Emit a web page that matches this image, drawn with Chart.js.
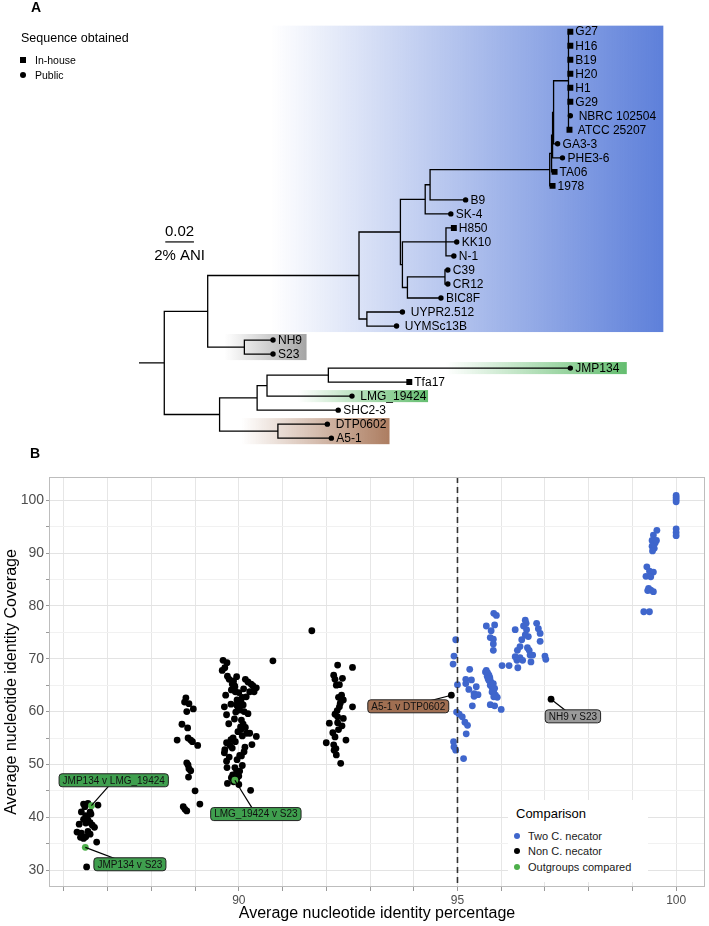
<!DOCTYPE html>
<html><head><meta charset="utf-8">
<script src="https://cdn.jsdelivr.net/npm/chart.js@4"></script>
<style>
body{margin:0;width:709px;height:926px;background:#fff;position:relative;overflow:hidden;font-family:"Liberation Sans",Arial,Helvetica,sans-serif}
canvas{position:absolute;left:0}
#tree{top:0}
#ani{top:455px}
.t{position:absolute;white-space:nowrap;color:#000}
</style></head><body>
<canvas id="tree" width="709" height="455"></canvas>
<canvas id="ani" width="709" height="471"></canvas>
<div class="t" style="left:31px;top:0px;font-weight:bold;font-size:14px;line-height:14px">A</div>
<div class="t" style="left:21px;top:30px;font-size:12.5px;line-height:16px">Sequence obtained</div>
<div style="position:absolute;left:20px;top:57px;width:6px;height:6px;background:#000"></div>
<div class="t" style="left:35px;top:54px;font-size:10.5px;line-height:12px">In-house</div>
<div style="position:absolute;left:20px;top:72px;width:6px;height:6px;border-radius:50%;background:#000"></div>
<div class="t" style="left:35px;top:69px;font-size:10.5px;line-height:12px">Public</div>
<div class="t" style="left:30px;top:446px;font-weight:bold;font-size:14px;line-height:14px">B</div>
<div style="position:absolute;left:508px;top:800px;width:140px;height:82px;background:#fff"></div>
<div class="t" style="left:516px;top:806px;font-size:13px;line-height:16px">Comparison</div>
<div style="position:absolute;left:514px;top:833px;width:6px;height:6px;border-radius:50%;background:#3f66cc"></div>
<div class="t" style="left:528px;top:829px;font-size:11px;line-height:14px;color:#1a1a1a">Two C. necator</div>
<div style="position:absolute;left:514px;top:848px;width:6px;height:6px;border-radius:50%;background:#000"></div>
<div class="t" style="left:528px;top:844px;font-size:11px;line-height:14px;color:#1a1a1a">Non C. necator</div>
<div style="position:absolute;left:514px;top:864px;width:6px;height:6px;border-radius:50%;background:#4daf4a"></div>
<div class="t" style="left:528px;top:860px;font-size:11px;line-height:14px;color:#1a1a1a">Outgroups compared</div>
<script>
// ================= Panel A: phylogenetic tree =================
const tipNames = ["G27","H16","B19","H20","H1","G29"," NBRC 102504"," ATCC 25207","GA3-3","PHE3-6","TA06","1978","B9","SK-4","H850","KK10","N-1","C39","CR12","BIC8F"," UYPR2.512"," UYMSc13B","NH9","S23","JMP134","Tfa17"," LMG_19424","SHC2-3"," DTP0602","A5-1"];
const tipSource = ["In-house","In-house","In-house","In-house","In-house","In-house","Public","In-house","Public","Public","In-house","In-house","Public","Public","In-house","Public","Public","Public","Public","Public","Public","Public","Public","Public","Public","In-house","Public","Public","Public","Public"];
const tipDepth = [0.2834,0.2834,0.2834,0.2834,0.2834,0.2834,0.2834,0.2828,0.2745,0.2779,0.2724,0.2710,0.2103,0.2000,0.2021,0.2041,0.2021,0.1979,0.1979,0.1931,0.1662,0.1621,0.0759,0.0759,0.2834,0.1710,0.1310,0.1214,0.1138,0.1166];
const tipParent = ["Gn","Gn","Gn","Gn","Gn","Gn","Gn","Gn","S1","S2","S3","Q","F","E","H","H","H","J","J","I","UY","UY","NS","NS","O","O","N","M","DA","DA"];
const nodeNames  = ["root","U","NS","B","UY","C","E","F","Q","S3","S2","S1","Gn","G","H","I","J","L","M","N","O","DA"];
const nodeParent = [null,"root","U","U","B","B","C","E","F","Q","S3","S2","S1","C","G","G","I","root","L","M","N","L"];
const nodeDepth  = [0,0.0303,0.0559,0.1359,0.1414,0.1648,0.1821,0.1855,0.2690,0.2703,0.2710,0.2717,0.2821,0.1662,0.1966,0.1697,0.1959,0.0386,0.0648,0.0717,0.1145,0.0793];
const rootEdgeStart = -0.0172;
const scaleBarLength = 0.02;
// highlighted clades (tip index range, depth range)
const hlFirstTip = [0,22,24,26,28];
const hlLastTip  = [21,23,24,26,29];
const hlFrom = [0.0745,0.0421,0.1966,0.0931,0.0538];
const hlTo   = [0.3483,0.0993,0.3228,0.1841,0.1572];
const hlColour = ["85,121,216","160,160,160","92,186,104","92,186,104","168,118,88"];

// ================= Panel B: ANI scatter =================
const xTickValues = [86,87,88,89,90,91,92,93,94,95,96,97,98,99,100];
const xTickLabelled = [90,95,100];
const yTickValues = [30,35,40,45,50,55,60,65,70,75,80,85,90,95,100];
const yTickLabelled = [30,40,50,60,70,80,90,100];
const aniThreshold = 95;

const nonNecatorX = [86.52,86.45,86.55,86.78,86.40,86.60,86.50,86.45,86.55,86.60,86.35,86.50,86.65,86.70,86.30,86.40,86.55,86.60,86.38,86.45,86.50,86.75,86.62,86.48,
 88.79,88.76,88.86,88.96,88.81,88.70,88.59,88.83,88.84,88.90,88.94,89.06,88.81,88.84,88.86,88.90,88.85,89.00,88.73,88.77,88.81,89.11,
 89.64,89.73,89.62,89.68,89.74,90.15,90.21,89.85,89.91,89.83,89.92,90.40,90.35,90.25,90.17,90.08,89.82,89.95,90.10,89.67,90.02,90.21,89.72,90.06,90.10,89.77,90.05,90.18,90.25,90.40,89.87,89.82,89.72,90.30,90.14,89.85,89.68,89.67,90.02,90.06,89.72,89.73,89.91,89.95,90.02,89.83,89.95,89.74,90.27,
 89.88,89.90,90.00,89.96,90.05,89.98,90.12,89.93,90.04,89.98,90.08,89.92,89.80,89.96,90.08,89.86,90.00,89.78,89.95,90.11,90.28,90.32,89.70,89.90,90.15,90.12,89.78,89.88,90.00,
 90.78,91.67,
 92.26,92.60,92.17,92.20,92.37,92.23,92.30,92.28,92.39,92.30,92.60,92.20,92.26,92.39,92.07,92.26,92.36,92.20,92.45,92.00,92.17,92.18,92.23,92.33,92.32,92.25,92.35,92.15,92.28,92.22,
 94.86,97.14];
const nonNecatorY = [30.6,42.5,42.6,42.3,41.0,41.0,40.3,39.6,39.5,39.0,38.7,38.9,38.5,38.1,37.2,37.0,37.3,36.8,36.2,36.0,36.3,35.3,40.6,42.0,
 62.6,61.8,61.5,60.5,60.0,57.6,54.6,56.9,55.0,54.6,54.3,53.6,50.3,49.9,49.2,48.8,47.6,45.0,42.0,41.5,41.2,42.5,
 69.7,69.25,67.8,68.3,66.7,66.1,65.6,65.2,64.7,64.1,63.75,64.5,63.75,63.75,62.8,62.7,61.4,61.25,61.25,60.9,60.3,59.6,59.4,58.4,57.6,57.7,56.6,55.9,55.9,55.3,55.0,54.7,54.1,53.75,53.25,53.1,52.8,52.2,51.7,51.6,50.6,49.4,49.4,48.75,48.75,47.5,47.2,46.4,45.1,
 65.8,64.9,63.6,62.2,61.9,60.8,60.0,59.9,57.1,56.2,55.4,54.3,53.6,50.9,49.8,48.0,47.8,66.1,66.6,64.3,65.2,64.9,63.1,58.6,57.0,52.4,51.4,46.7,46.2,
 69.6,75.3,
 68.8,68.35,66.9,66.1,66.3,65.0,65.1,62.7,62.2,60.9,60.9,59.5,59.0,58.7,57.8,57.9,57.3,55.2,54.6,54.1,53.7,52.7,51.8,50.2,61.6,60.2,63.1,56.0,56.6,53.0,
 63.1,62.35];

const twoNecatorX = [95.83,95.89,95.66,95.85,95.77,95.75,95.82,95.82,95.82,94.96,94.92,94.90,95.28,96.02,96.18,96.38,95.19,95.32,95.19,95.00,95.43,95.26,95.38,95.47,95.38,95.34,94.98,95.04,95.11,95.17,95.23,95.20,94.91,94.92,94.96,95.14,95.75,95.85,96.00,
 95.66,95.69,95.72,95.74,95.75,95.77,95.78,95.79,95.81,95.83,95.87,95.91,95.68,95.72,95.75,95.79,95.83,95.70,95.82,95.85,95.64,
 96.55,96.57,96.51,96.32,96.81,96.85,96.89,96.58,96.55,96.62,96.47,96.89,96.43,96.37,96.60,96.64,96.32,96.43,96.36,96.49,96.66,96.72,96.68,97.00,97.02,
 100.0,100.0,100.0,100.0,100.0,100.0,100.0,
 99.56,99.48,99.45,99.52,99.45,99.50,99.46,99.55,99.33,99.39,99.48,99.31,99.42,99.37,99.42,99.48,99.35,99.26,99.39];
const twoNecatorY = [78.6,78.2,76.2,76.4,75.3,74.0,73.7,72.8,71.6,73.6,70.5,69.0,68.0,68.7,68.7,68.3,66.1,66.0,65.3,65.1,64.7,64.2,63.4,63.2,62.9,61.1,59.9,59.5,59.0,58.0,57.4,55.8,54.3,53.3,52.7,51.1,61.3,61.1,60.4,
 67.8,67.3,66.9,66.4,65.9,65.5,65.0,64.6,64.1,63.6,63.1,62.7,66.7,65.9,65.0,63.7,62.8,66.2,65.3,64.4,67.5,
 77.3,76.7,76.2,75.5,76.7,75.7,74.8,75.5,74.5,74.2,73.6,73.3,72.3,71.6,72.1,71.6,70.4,70.2,69.7,69.7,70.7,70.7,69.4,70.5,69.9,
 100.9,100.5,100.1,99.7,94.6,93.9,93.3,
 94.3,93.4,92.4,91.9,91.3,90.9,90.4,92.4,87.4,86.6,86.4,85.6,85.5,83.3,83.0,82.7,82.9,78.9,78.9];

const outgroupX = [86.49,86.63,89.91];
const outgroupY = [34.3,42.2,47.0];

const tagText = ["JMP134 v LMG_19424","JMP134 v S23","LMG_19424 v S23","A5-1 v DTP0602","NH9 v S23"];
const tagPointX = [86.63,86.49,89.91,94.86,97.14];
const tagPointY = [42.2,34.3,47.0,63.1,62.35];
const tagCentreX = [87.14,87.51,90.39,93.875,97.64];
const tagCentreY = [47.0,31.1,40.6,61.0,59.1];
const tagFill = ["#3f9f4e","#3f9f4e","#3f9f4e","#a06f52","#9a9a9a"];

// ----------------------------------------------------------------
const FONT = '"Liberation Sans", Arial, Helvetica, sans-serif';
Chart.defaults.font.family = FONT;

// tree layout
const nodeY = {}; const nodeD = {};
nodeNames.forEach((n,i)=>{ nodeD[n] = nodeDepth[i]; });
const children = {}; nodeNames.forEach(n=>children[n]=[]);
tipNames.forEach((t,i)=>children[tipParent[i]].push({tip:i}));
nodeNames.forEach((n,i)=>{ if(nodeParent[i]) children[nodeParent[i]].push({node:n}); });
function yOf(c){ return c.tip!==undefined ? c.tip : layoutNode(c.node); }
function layoutNode(n){
  if(nodeY[n]!==undefined) return nodeY[n];
  const ys = children[n].map(yOf);
  nodeY[n] = (Math.min(...ys)+Math.max(...ys))/2;
  return nodeY[n];
}
layoutNode("root");
const edgePts = [];
const gap = {x:NaN,y:NaN};
function seg(x1,y1,x2,y2){ edgePts.push({x:x1,y:y1},{x:x2,y:y2},gap); }
seg(rootEdgeStart,nodeY.root,0,nodeY.root);
nodeNames.forEach((n,i)=>{
  const ys = children[n].map(yOf);
  seg(nodeD[n],Math.min(...ys),nodeD[n],Math.max(...ys));
  if(nodeParent[i]) seg(nodeD[nodeParent[i]],nodeY[n],nodeD[n],nodeY[n]);
});
tipNames.forEach((t,i)=>seg(nodeD[tipParent[i]],i,tipDepth[i],i));
const inhousePts=[], publicPts=[];
tipNames.forEach((t,i)=>{ (tipSource[i]==="In-house"?inhousePts:publicPts).push({x:tipDepth[i],y:i}); });

const treeDeco = {
  id:'treeDeco',
  beforeDatasetsDraw(chart){
    const {ctx, scales:{x,y}} = chart;
    ctx.save();
    hlFirstTip.forEach((f,k)=>{
      const x0 = x.getPixelForValue(hlFrom[k]), x1 = x.getPixelForValue(hlTo[k]);
      const y0 = y.getPixelForValue(f-0.43), y1 = y.getPixelForValue(hlLastTip[k]+0.43);
      const g = ctx.createLinearGradient(x0,0,x1,0);
      g.addColorStop(0,'rgba('+hlColour[k]+',0)');
      g.addColorStop(1,'rgba('+hlColour[k]+',0.95)');
      ctx.fillStyle = g; ctx.fillRect(x0,y0,x1-x0,y1-y0);
    });
    ctx.restore();
  },
  afterDatasetsDraw(chart){
    const {ctx, scales:{x,y}} = chart;
    ctx.save();
    ctx.fillStyle = '#000'; ctx.font = '12px '+FONT; ctx.textBaseline='middle'; ctx.textAlign='left';
    tipNames.forEach((t,i)=>{ ctx.fillText(t, x.getPixelForValue(tipDepth[i])+5, y.getPixelForValue(i)+0.5); });
    // scale bar
    const sbx0 = x.getPixelForValue(0.0007), sbx1 = x.getPixelForValue(0.0007+scaleBarLength);
    const sby = y.getPixelForValue(15);
    ctx.strokeStyle='#000'; ctx.lineWidth=1.2;
    ctx.beginPath(); ctx.moveTo(sbx0,sby); ctx.lineTo(sbx1,sby); ctx.stroke();
    ctx.font = '15px '+FONT; ctx.textAlign='center';
    ctx.fillText('0.02',(sbx0+sbx1)/2,sby-10);
    ctx.fillText('2% ANI',(sbx0+sbx1)/2,sby+14);
    ctx.restore();
  }
};

new Chart(document.getElementById('tree'),{
  type:'scatter',
  data:{datasets:[
    {label:'In-house',data:inhousePts,pointStyle:'rect',pointRadius:4.2,backgroundColor:'#000',borderWidth:0},
    {label:'Public',data:publicPts,pointStyle:'circle',pointRadius:2.7,backgroundColor:'#000',borderWidth:0},
    {label:'edges',data:edgePts,showLine:true,spanGaps:false,borderColor:'#000',borderWidth:1.3,borderCapStyle:'square',pointRadius:0}
  ]},
  options:{responsive:false,animation:false,devicePixelRatio:1,events:[],layout:{padding:0},
    plugins:{legend:{display:false},tooltip:{enabled:false}},
    scales:{
      x:{type:'linear',display:false,min:-162/1450,max:(709-162)/1450},
      y:{type:'linear',display:false,reverse:true,min:-28/14.28,max:-28/14.28+455/14.28}
    }},
  plugins:[treeDeco]
});

// scatter
const zip=(a,b)=>a.map((v,i)=>({x:v,y:b[i]}));
const aniDeco = {
  id:'aniDeco',
  afterDatasetsDraw(chart){
    const {ctx, chartArea:ca, scales:{x,y}} = chart;
    ctx.save();
    // threshold line
    const tx = x.getPixelForValue(aniThreshold);
    ctx.strokeStyle='#333'; ctx.lineWidth=1.6; ctx.setLineDash([6,4]);
    ctx.beginPath(); ctx.moveTo(tx,ca.top); ctx.lineTo(tx,ca.bottom); ctx.stroke();
    ctx.setLineDash([]);
    // tags
    tagText.forEach((t,k)=>{
      const px = x.getPixelForValue(tagPointX[k]), py = y.getPixelForValue(tagPointY[k]);
      const cx = x.getPixelForValue(tagCentreX[k]), cy = y.getPixelForValue(tagCentreY[k]);
      ctx.strokeStyle='#000'; ctx.lineWidth=1.2;
      ctx.beginPath(); ctx.moveTo(px,py); ctx.lineTo(cx,cy); ctx.stroke();
      ctx.font='10px '+FONT;
      const w = ctx.measureText(t).width+7, h=13;
      ctx.beginPath(); ctx.roundRect(cx-w/2,cy-h/2,w,h,3);
      ctx.fillStyle=tagFill[k]; ctx.fill();
      ctx.lineWidth=1; ctx.strokeStyle='#222'; ctx.stroke();
      ctx.fillStyle='#111'; ctx.textAlign='center'; ctx.textBaseline='middle';
      ctx.fillText(t,cx,cy+0.5);
    });
    // panel border
    ctx.strokeStyle='#bdbdbd'; ctx.lineWidth=1;
    ctx.strokeRect(Math.round(ca.left)+0.5,Math.round(ca.top)+0.5,Math.round(ca.right-ca.left)-1,Math.round(ca.bottom-ca.top)-1);
    ctx.restore();
  }
};

new Chart(document.getElementById('ani'),{
  type:'scatter',
  data:{datasets:[
    {label:'Outgroups compared',data:zip(outgroupX,outgroupY),backgroundColor:'#4daf4a',pointRadius:3.4,borderWidth:0},
    {label:'Two C. necator',data:zip(twoNecatorX,twoNecatorY),backgroundColor:'#3f66cc',pointRadius:3.4,borderWidth:0},
    {label:'Non C. necator',data:zip(nonNecatorX,nonNecatorY),backgroundColor:'#000',pointRadius:3.4,borderWidth:0}
  ]},
  options:{responsive:false,animation:false,devicePixelRatio:1,events:[],
    layout:{padding:{top:22,right:3,left:0,bottom:0}},
    plugins:{legend:{display:false},tooltip:{enabled:false}},
    scales:{
      x:{type:'linear',min:85.66,max:100.66,
        afterFit(s){s.height=39;},
        afterBuildTicks(s){s.ticks=xTickValues.map(v=>({value:v}));},
        ticks:{autoSkip:false,maxRotation:0,padding:2,color:'#4d4d4d',font:{size:12},callback:v=>xTickLabelled.includes(v)?String(v):''},
        grid:{color:'#e6e6e6',tickColor:'#9a9a9a',tickLength:4,lineWidth:1},
        border:{display:false},
        title:{display:true,text:'Average nucleotide identity percentage',color:'#000',font:{size:16},padding:{top:0,bottom:3}}
      },
      y:{type:'linear',min:26.8,max:104.4,
        afterFit(s){s.width=49;},
        afterBuildTicks(s){s.ticks=yTickValues.map(v=>({value:v}));},
        ticks:{autoSkip:false,padding:2,color:'#4d4d4d',font:{size:14},callback:v=>yTickLabelled.includes(v)?String(v):''},
        grid:{color:c=>yTickLabelled.includes(c.tick.value)?'#e3e3e3':'#f1f1f1',tickColor:'#9a9a9a',tickLength:3,lineWidth:1},
        border:{display:false},
        title:{display:true,text:'Average nucleotide identity Coverage',color:'#000',font:{size:16},padding:{top:2,bottom:0}}
      }
    }},
  plugins:[aniDeco]
});
</script>
</body></html>
